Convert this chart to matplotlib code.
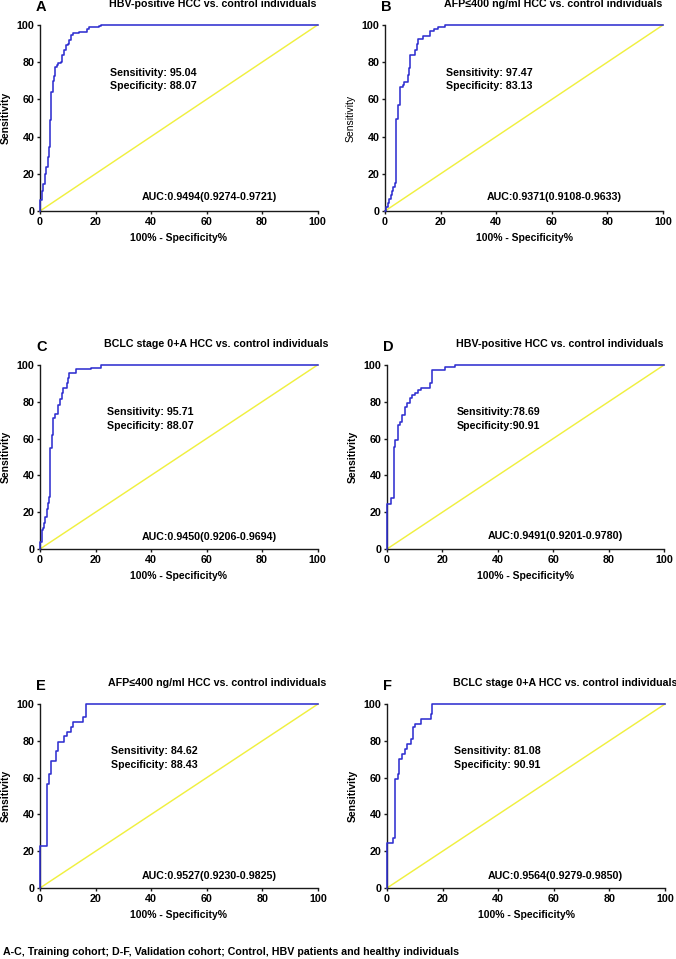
import matplotlib
matplotlib.use("Agg")
import matplotlib.pyplot as plt

plt.rcParams['font.family'] = ['Liberation Sans', 'DejaVu Sans']

# ---- data ----
panel_letters = ["A", "B", "C", "D", "E", "F"]
titles = [
    "HBV-positive HCC vs. control individuals",
    "AFP\u2264400 ng/ml HCC vs. control individuals",
    "BCLC stage 0+A HCC vs. control individuals",
    "HBV-positive HCC vs. control individuals",
    "AFP\u2264400 ng/ml HCC vs. control individuals",
    "BCLC stage 0+A HCC vs. control individuals",
]
sens_text = ["Sensitivity: 95.04", "Sensitivity: 97.47", "Sensitivity: 95.71",
             "Sensitivity:78.69", "Sensitivity: 84.62", "Sensitivity: 81.08"]
spec_text = ["Specificity: 88.07", "Specificity: 83.13", "Specificity: 88.07",
             "Specificity:90.91", "Specificity: 88.43", "Specificity: 90.91"]
auc_text = ["AUC:0.9494(0.9274-0.9721)", "AUC:0.9371(0.9108-0.9633)",
            "AUC:0.9450(0.9206-0.9694)", "AUC:0.9491(0.9201-0.9780)",
            "AUC:0.9527(0.9230-0.9825)", "AUC:0.9564(0.9279-0.9850)"]

fpr_A = [0, 0, 0.7, 1.2, 1.9, 2.2, 2.8, 3.4, 3.7, 4.0, 4.6, 5.2, 5.5, 6.1, 6.5, 7.6, 8.0, 8.8, 9.2,
         10.2, 10.6, 11.2, 11.8, 14.2, 16.9, 17.8, 21.4, 22, 100]
tpr_A = [0, 5.7, 11, 14.7, 19.7, 23.7, 29, 34.5, 49, 64, 69.7, 72.4, 77.6, 78.5, 79.7, 80.3, 83.8,
         86.5, 89.2, 89.8, 92, 94.6, 95.5, 96, 97.7, 98.8, 99.6, 100, 100]

fpr_B = [0, 0.5, 1.0, 1.5, 2.0, 2.5, 3.0, 3.5, 4.0, 4.6, 5.5, 6.4, 6.7, 8.2, 8.5, 9.1, 10.8, 11.4,
         11.8, 13.6, 16.3, 17.8, 19.0, 21.6, 100]
tpr_B = [0, 2, 4.5, 6.5, 8.5, 11, 13, 15, 49.7, 57, 66.4, 67.7, 69.5, 73, 76.7, 83.8, 86.5, 90,
         92.3, 94, 97, 97.7, 98.7, 100, 100]

fpr_C = [0, 0, 0.7, 1.2, 1.6, 1.9, 2.4, 2.8, 3.4, 3.7, 4.2, 4.8, 5.4, 6.4, 7.2, 7.8, 8.4, 9.6, 10.2,
         10.6, 13.0, 18.5, 22, 100]
tpr_C = [0, 4, 10.3, 11.2, 14, 17.6, 22, 24.8, 28.4, 54.7, 62, 71, 73.6, 78, 81.7, 84.6, 87.3, 90.4,
         92.8, 95.5, 97.6, 98.5, 100, 100]

fpr_D = [0, 0, 1.6, 2.4, 3.0, 4.0, 4.8, 5.5, 6.4, 7.2, 8.2, 9.0, 10.0, 11.2, 12.4, 15.4, 16.4, 20.8,
         24.5, 100]
tpr_D = [0, 24.3, 27.5, 55.6, 59.2, 67.4, 69.2, 72.8, 77.4, 79.2, 81.9, 83.7, 84.6, 86.4, 87.3, 90.4,
         97.3, 98.7, 100, 100]

fpr_E = [0, 0, 2.4, 3.1, 4.0, 5.8, 6.4, 8.8, 9.6, 11.2, 11.8, 15.4, 16.4, 100]
tpr_E = [0, 23, 56.5, 62, 69.2, 74.6, 79.5, 82.4, 84.6, 87.3, 90, 92.8, 100, 100]

fpr_F = [0, 0, 2.2, 2.8, 4.0, 4.3, 5.5, 6.4, 7.2, 8.5, 9.4, 10.2, 12.1, 15.7, 16.3, 100]
tpr_F = [0, 24.3, 27, 59.5, 62, 70.3, 73, 75.7, 78.4, 81, 87.4, 89.2, 91.9, 94.6, 100, 100]

fprs = [fpr_A, fpr_B, fpr_C, fpr_D, fpr_E, fpr_F]
tprs = [tpr_A, tpr_B, tpr_C, tpr_D, tpr_E, tpr_F]
ref_line = [0, 100]
ticks = [0, 20, 40, 60, 80, 100]

caption = "A-C, Training cohort; D-F, Validation cohort; Control, HBV patients and healthy individuals"

# ---- layout (pixels) ----
W, H = 676, 959
fig = plt.figure(figsize=(W / 100, H / 100), dpi=100)

boxes = [  # left, top, right, bottom in pixels
    (40, 25, 317.5, 211),
    (385, 25, 663, 211),
    (40, 365, 317.5, 549),
    (387, 365, 664, 549),
    (40, 704, 318, 888),
    (387, 704, 665, 888),
]
title_x = [62.3, 60.4, 63.4, 62.5, 63.8, 64.2]
sens_x = [25.2, 21.9, 24.3, 25.3, 25.5, 24.2]
auc_x = [61, 60.8, 61, 60.6, 61, 60.6]
auc_y = [7.5, 7.5, 6.5, 7, 6.5, 6.5]

FS = 7.7
blue = "#2f2fd0"
yellow = "#f0f040"

for i in range(6):
    l, t, r, b = boxes[i]
    ax = fig.add_axes([l / W, 1 - b / H, (r - l) / W, (b - t) / H])
    wpx, hpx = r - l, b - t
    ax.plot(ref_line, ref_line, color=yellow, lw=1.05, clip_on=False, zorder=2)
    ax.plot(fprs[i], tprs[i], color=blue, lw=1.15, drawstyle="steps-post",
            clip_on=False, zorder=3)
    ax.set_xlim(0, 100)
    ax.set_ylim(0, 100)
    ax.set_xticks(ticks)
    ax.set_yticks(ticks)
    for s in ["top", "right"]:
        ax.spines[s].set_visible(False)
    for s in ["left", "bottom"]:
        ax.spines[s].set_linewidth(1.0)
        ax.spines[s].set_color("#1a1a1a")
    ax.tick_params(direction="out", length=2.5, width=1.0, pad=1.5,
                   labelsize=FS, color="#1a1a1a")
    for lab in ax.get_xticklabels() + ax.get_yticklabels():
        lab.set_fontweight("bold")
    ax.set_xlabel("100% - Specificity%", fontsize=FS - 0.2, fontweight="bold", va="center")
    ax.xaxis.set_label_coords(0.5, -27 / hpx)
    ax.set_ylabel("Sensitivity", fontsize=FS - 0.2,
                  fontweight=("normal" if i == 1 else "bold"), va="center")
    ax.yaxis.set_label_coords(-34 / wpx, 0.5)

    ax.text(title_x[i], 100 + 21 / hpx * 100, titles[i], ha="center", va="center",
            fontsize=FS, fontweight="bold")
    ax.text(-4 / wpx, 1 + 18 / hpx, panel_letters[i], transform=ax.transAxes,
            ha="left", va="center", fontsize=10.5, fontweight="bold")
    ax.text(sens_x[i], 74.2, sens_text[i], ha="left", va="center", fontsize=FS, fontweight="bold")
    ax.text(sens_x[i], 67.0, spec_text[i], ha="left", va="center", fontsize=FS, fontweight="bold")
    ax.text(auc_x[i], auc_y[i], auc_text[i], ha="center", va="center", fontsize=FS,
            fontweight="bold")

fig.text(3 / W, 1 - 952 / H, caption, ha="left", va="center", fontsize=FS, fontweight="bold")

fig.savefig("out.png", dpi=100)
